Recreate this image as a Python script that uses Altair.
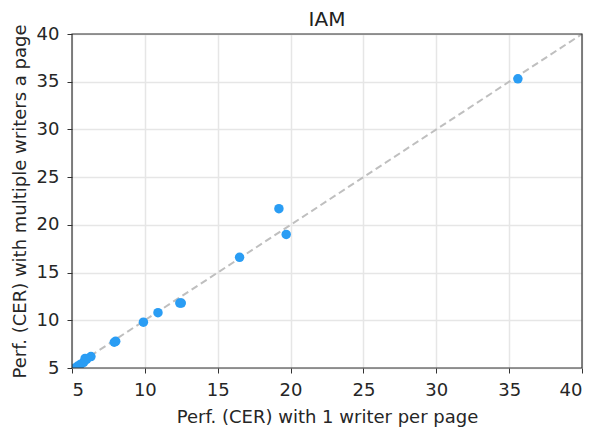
import altair as alt
import pandas as pd

single_writer = [35.6, 19.2, 19.7, 16.5, 12.4, 12.5, 10.9, 9.9, 7.9, 8.0, 6.3, 6.0, 5.9, 5.8, 5.6, 5.4, 5.2]
multi_writer = [35.3, 21.7, 19.0, 16.6, 11.8, 11.8, 10.8, 9.8, 7.7, 7.8, 6.2, 5.9, 6.0, 5.6, 5.4, 5.2, 5.0]
diag = [5, 40]
ticks = [5, 10, 15, 20, 25, 30, 35, 40]
title_text = ["IAM"]

W, H = 510, 334

pts = pd.DataFrame({"x": single_writer, "y": multi_writer})
line_df = pd.DataFrame({"x": diag, "y": diag})
frame_df = pd.DataFrame({"k": [0]})
title_df = pd.DataFrame({"t": title_text})

xs = alt.Scale(domain=[5, 40], nice=False, zero=False)
ys = alt.Scale(domain=[5, 40], nice=False, zero=False)

line = alt.Chart(line_df).mark_line(color="#bfbfbf", strokeDash=[7, 4], strokeWidth=2).encode(
    x=alt.X("x:Q", scale=xs, title="Perf. (CER) with 1 writer per page",
            axis=alt.Axis(values=ticks, labelPadding=8, titlePadding=9)),
    y=alt.Y("y:Q", scale=ys, title="Perf. (CER) with multiple writers a page",
            axis=alt.Axis(values=ticks, labelPadding=8, titlePadding=7)),
)

points = alt.Chart(pts).mark_circle(color="#2a9df4", size=90, opacity=1, clip=True).encode(
    x=alt.X("x:Q", scale=xs),
    y=alt.Y("y:Q", scale=ys),
)

frame = alt.Chart(frame_df).mark_rect(fillOpacity=0, stroke="#333333", strokeWidth=1.2).encode(
    x=alt.value(0), x2=alt.value(W), y=alt.value(0), y2=alt.value(H)
)

title = alt.Chart(title_df).mark_text(
    font="DejaVu Sans", fontSize=20, color="#222222", baseline="alphabetic", align="center"
).encode(
    text="t:N", x=alt.value(W / 2), y=alt.value(-8)
)

chart = (line + points + frame + title).properties(
    width=W, height=H,
    autosize=alt.AutoSizeParams(type="none"),
    padding={"left": 64, "top": 26, "right": 7, "bottom": 60},
).configure_view(
    strokeWidth=0
).configure_axis(
    labelFont="DejaVu Sans", titleFont="DejaVu Sans", labelFontSize=18, titleFontSize=18,
    titleFontWeight="normal", labelColor="#262626", titleColor="#262626",
    gridColor="#e6e6e6", gridWidth=1.5, tickColor="#333333", domain=False,
    tickSize=5,
)

chart.save("out.html", embed_options={"renderer": "svg", "actions": False})
